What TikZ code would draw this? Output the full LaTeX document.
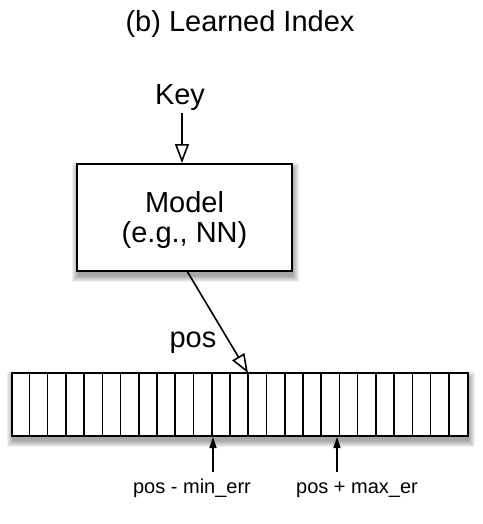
\documentclass[tikz,border=0pt]{standalone}
\usepackage{fontspec}
\setmainfont{Liberation Sans}
\usetikzlibrary{arrows.meta,calc}
\begin{document}
\begin{tikzpicture}[x=1pt,y=-1pt,
  big/.style={font=\fontsize{29}{30}\selectfont},
  small/.style={font=\fontsize{20}{22}\selectfont},
  openarrow/.style={-{Triangle[open,length=19pt,width=14pt,fill=white]},line width=1.6pt},
  uparrow/.style={-{Triangle[length=11pt,width=7pt]},line width=1.6pt},
  boxline/.style={line width=1.8pt}]
\useasboundingbox (0,0) rectangle (482,524);
% soft shadows
\foreach \s in {0,1,...,6}{
  \fill[black,opacity=0.06] (77-\s+1,164-\s+5) rectangle (292+\s+1,271+\s+5);
  \fill[black,opacity=0.06] (12-\s+1,373-\s+5) rectangle (468+\s+1,436+\s+5);
}
\node[big,anchor=base,inner sep=0pt] (title) at (240,32) {(b) Learned Index};
\node[big,anchor=base,inner sep=0pt] (key) at (180,105) {Key};
\node[draw,boxline,fill=white,minimum width=215pt,minimum height=107pt,inner sep=0pt] (model) at (184.5,217.5) {};
\node[big,anchor=base,inner sep=0pt] (mtext1) at (184.5,212) {Model};
\node[big,anchor=base,inner sep=0pt] (mtext2) at (184.5,242) {(e.g., NN)};
\node[draw,boxline,fill=white,minimum width=456pt,minimum height=63pt,inner sep=0pt] (arr) at (240,404.5) {};
\foreach \i in {1,...,24}{
  \draw[line width=1.6pt] ($(arr.north west)+(\i*18.24,0)$) -- ($(arr.south west)+(\i*18.24,0)$);
}
\coordinate (ktop) at (182,113);
\coordinate (mtop) at (182,163);
\coordinate (mbot) at (187,271);
\coordinate (ptip) at (248,373);
\draw[openarrow] (ktop) -- (mtop);
\draw[openarrow] (mbot) -- (ptip);
\node[big,anchor=base,inner sep=0pt] (poslbl) at (193,347) {pos};
\coordinate (a1s) at (213,472);
\coordinate (a1e) at (213,437);
\coordinate (a2s) at (337,472);
\coordinate (a2e) at (337,437);
\draw[uparrow] (a1s) -- (a1e);
\draw[uparrow] (a2s) -- (a2e);
\node[small,anchor=base,inner sep=0pt] (l1) at (192,493) {pos - min\_err};
\node[small,anchor=base,inner sep=0pt] (l2) at (357,493) {pos + max\_er};
\end{tikzpicture}
\end{document}
